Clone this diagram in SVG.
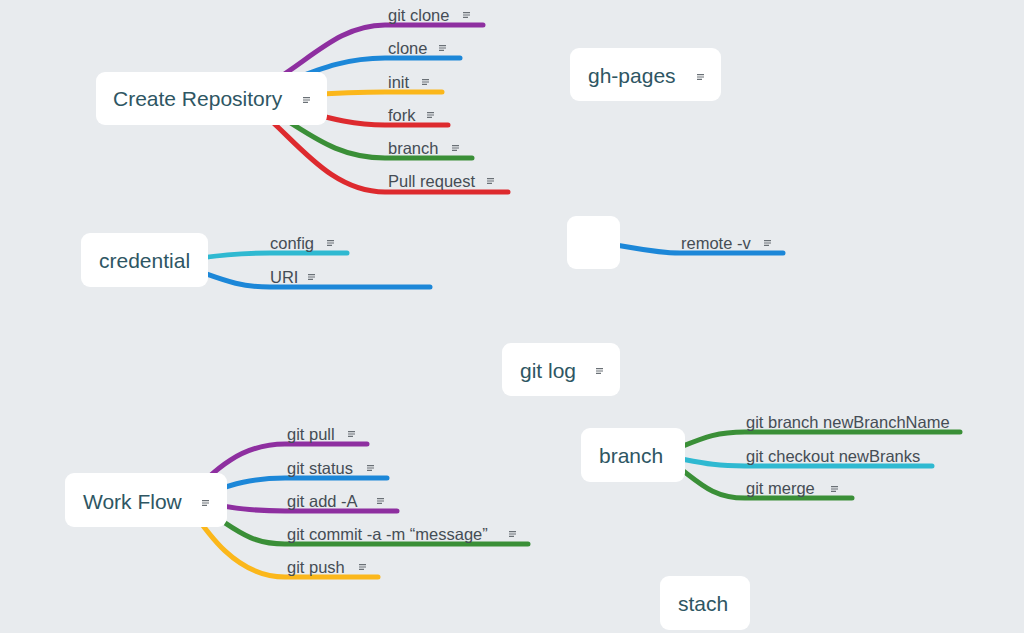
<svg xmlns="http://www.w3.org/2000/svg" xmlns:xlink="http://www.w3.org/1999/xlink" width="1024" height="633" viewBox="0 0 1024 633">
  <style>
    .bg { fill: #e8ebee; }
    .node rect { fill: #ffffff; }
    .node text { font-family: "Liberation Sans", Arial, sans-serif; font-size: 21px; fill: #2e5663; }
    .lbl { font-family: "Liberation Sans", Arial, sans-serif; font-size: 16.5px; fill: #454d55; }
    .edge { fill: none; stroke-width: 5; stroke-linecap: round; }
    .purple { stroke: #8e2fa0; }
    .blue { stroke: #1c87d8; }
    .yellow { stroke: #fbb71b; }
    .red { stroke: #dd2a2e; }
    .green { stroke: #3a8f37; }
    .cyan { stroke: #2fb9d1; }
  </style>
  <defs>
    <!-- note marker shown beside topics that carry notes -->
    <g id="note">
      <path d="M0 0.6h7M0 3h7M0 5.4h5" stroke="#6a7076" stroke-width="1.2" fill="none"/>
    </g>
  </defs>

  <rect class="bg" x="0" y="0" width="1024" height="633"/>

  <!-- branch connectors (drawn first so the topic boxes sit on top) -->
  <g id="connectors">
    <!-- Create Repository -->
    <path class="edge purple" d="M240 98 C300 75 330 25 385 25 H483"/>
    <path class="edge blue" d="M240 98 C300 80 330 58 385 58 H460"/>
    <path class="edge yellow" d="M240 98 C300 96 330 92 385 92 H442"/>
    <path class="edge red" d="M240 98 C300 105 330 125 385 125 H448"/>
    <path class="edge green" d="M240 98 C295 115 320 158 385 158 H472"/>
    <path class="edge red" d="M240 98 C285 120 320 192 385 192 H508"/>
    <!-- credential -->
    <path class="edge cyan" d="M170 262 C220 255 240 253 270 253 H347"/>
    <path class="edge blue" d="M170 262 C215 275 230 287 270 287 H430"/>
    <!-- unnamed topic -->
    <path class="edge blue" d="M595 242 C630 246 650 253 680 253 H783"/>
    <!-- Work Flow -->
    <path class="edge purple" d="M185 500 C215 470 240 444 285 444 H367"/>
    <path class="edge blue" d="M185 500 C220 490 240 478 285 478 H387"/>
    <path class="edge purple" d="M185 500 C220 505 240 511 285 511 H397"/>
    <path class="edge green" d="M185 500 C230 520 240 544 285 544 H528"/>
    <path class="edge yellow" d="M185 500 C205 530 235 577 285 577 H378"/>
    <!-- branch -->
    <path class="edge green" d="M660 455 C700 440 710 432 745 432 H960"/>
    <path class="edge cyan" d="M660 455 C700 462 710 466 745 466 H932"/>
    <path class="edge green" d="M660 455 C695 475 705 498 745 498 H852"/>
  </g>

  <!-- Create Repository topic and its subtopics -->
  <g id="create-repository" class="node">
    <rect x="96" y="72" width="231" height="53" rx="9"/>
    <text x="113" y="106">Create Repository</text>
    <use xlink:href="#note" x="303" y="97"/>
  </g>
  <g id="git-clone"><text class="lbl" x="388" y="21">git clone</text><use xlink:href="#note" x="463" y="12"/></g>
  <g id="clone"><text class="lbl" x="388" y="54">clone</text><use xlink:href="#note" x="439" y="45"/></g>
  <g id="init"><text class="lbl" x="388" y="88">init</text><use xlink:href="#note" x="422" y="79"/></g>
  <g id="fork"><text class="lbl" x="388" y="121">fork</text><use xlink:href="#note" x="427" y="112"/></g>
  <g id="branch-sub"><text class="lbl" x="388" y="154">branch</text><use xlink:href="#note" x="452" y="145"/></g>
  <g id="pull-request"><text class="lbl" x="388" y="187">Pull request</text><use xlink:href="#note" x="487" y="178"/></g>

  <!-- gh-pages -->
  <g id="gh-pages" class="node">
    <rect x="570" y="48" width="151" height="53" rx="9"/>
    <text x="588" y="83">gh-pages</text>
    <use xlink:href="#note" x="697" y="74"/>
  </g>

  <!-- credential -->
  <g id="credential" class="node">
    <rect x="81" y="233" width="127" height="54" rx="9"/>
    <text x="99" y="268">credential</text>
  </g>
  <g id="config"><text class="lbl" x="270" y="249">config</text><use xlink:href="#note" x="327" y="240"/></g>
  <g id="uri"><text class="lbl" x="270" y="283">URI</text><use xlink:href="#note" x="308" y="274"/></g>

  <!-- unnamed topic -->
  <g id="empty-topic" class="node">
    <rect x="567" y="216" width="53" height="53" rx="9"/>
  </g>
  <g id="remote-v"><text class="lbl" x="681" y="249">remote -v</text><use xlink:href="#note" x="764" y="240"/></g>

  <!-- git log -->
  <g id="git-log" class="node">
    <rect x="502" y="343" width="118" height="53" rx="9"/>
    <text x="520" y="378">git log</text>
    <use xlink:href="#note" x="596" y="368"/>
  </g>

  <!-- Work Flow -->
  <g id="work-flow" class="node">
    <rect x="65" y="473" width="162" height="54" rx="9"/>
    <text x="83" y="509">Work Flow</text>
    <use xlink:href="#note" x="202" y="500"/>
  </g>
  <g id="git-pull"><text class="lbl" x="287" y="440">git pull</text><use xlink:href="#note" x="348" y="431"/></g>
  <g id="git-status"><text class="lbl" x="287" y="474">git status</text><use xlink:href="#note" x="367" y="465"/></g>
  <g id="git-add"><text class="lbl" x="287" y="507">git add -A</text><use xlink:href="#note" x="377" y="498"/></g>
  <g id="git-commit"><text class="lbl" x="287" y="540">git commit -a -m “message”</text><use xlink:href="#note" x="509" y="531"/></g>
  <g id="git-push"><text class="lbl" x="287" y="573">git push</text><use xlink:href="#note" x="359" y="564"/></g>

  <!-- branch -->
  <g id="branch" class="node">
    <rect x="581" y="428" width="104" height="54" rx="9"/>
    <text x="599" y="463">branch</text>
  </g>
  <g id="git-branch-new"><text class="lbl" x="746" y="428">git branch newBranchName</text></g>
  <g id="git-checkout"><text class="lbl" x="746" y="462">git checkout newBranks</text></g>
  <g id="git-merge"><text class="lbl" x="746" y="494">git merge</text><use xlink:href="#note" x="831" y="486"/></g>

  <!-- stach -->
  <g id="stach" class="node">
    <rect x="660" y="576" width="90" height="54" rx="9"/>
    <text x="678" y="611">stach</text>
  </g>
</svg>
